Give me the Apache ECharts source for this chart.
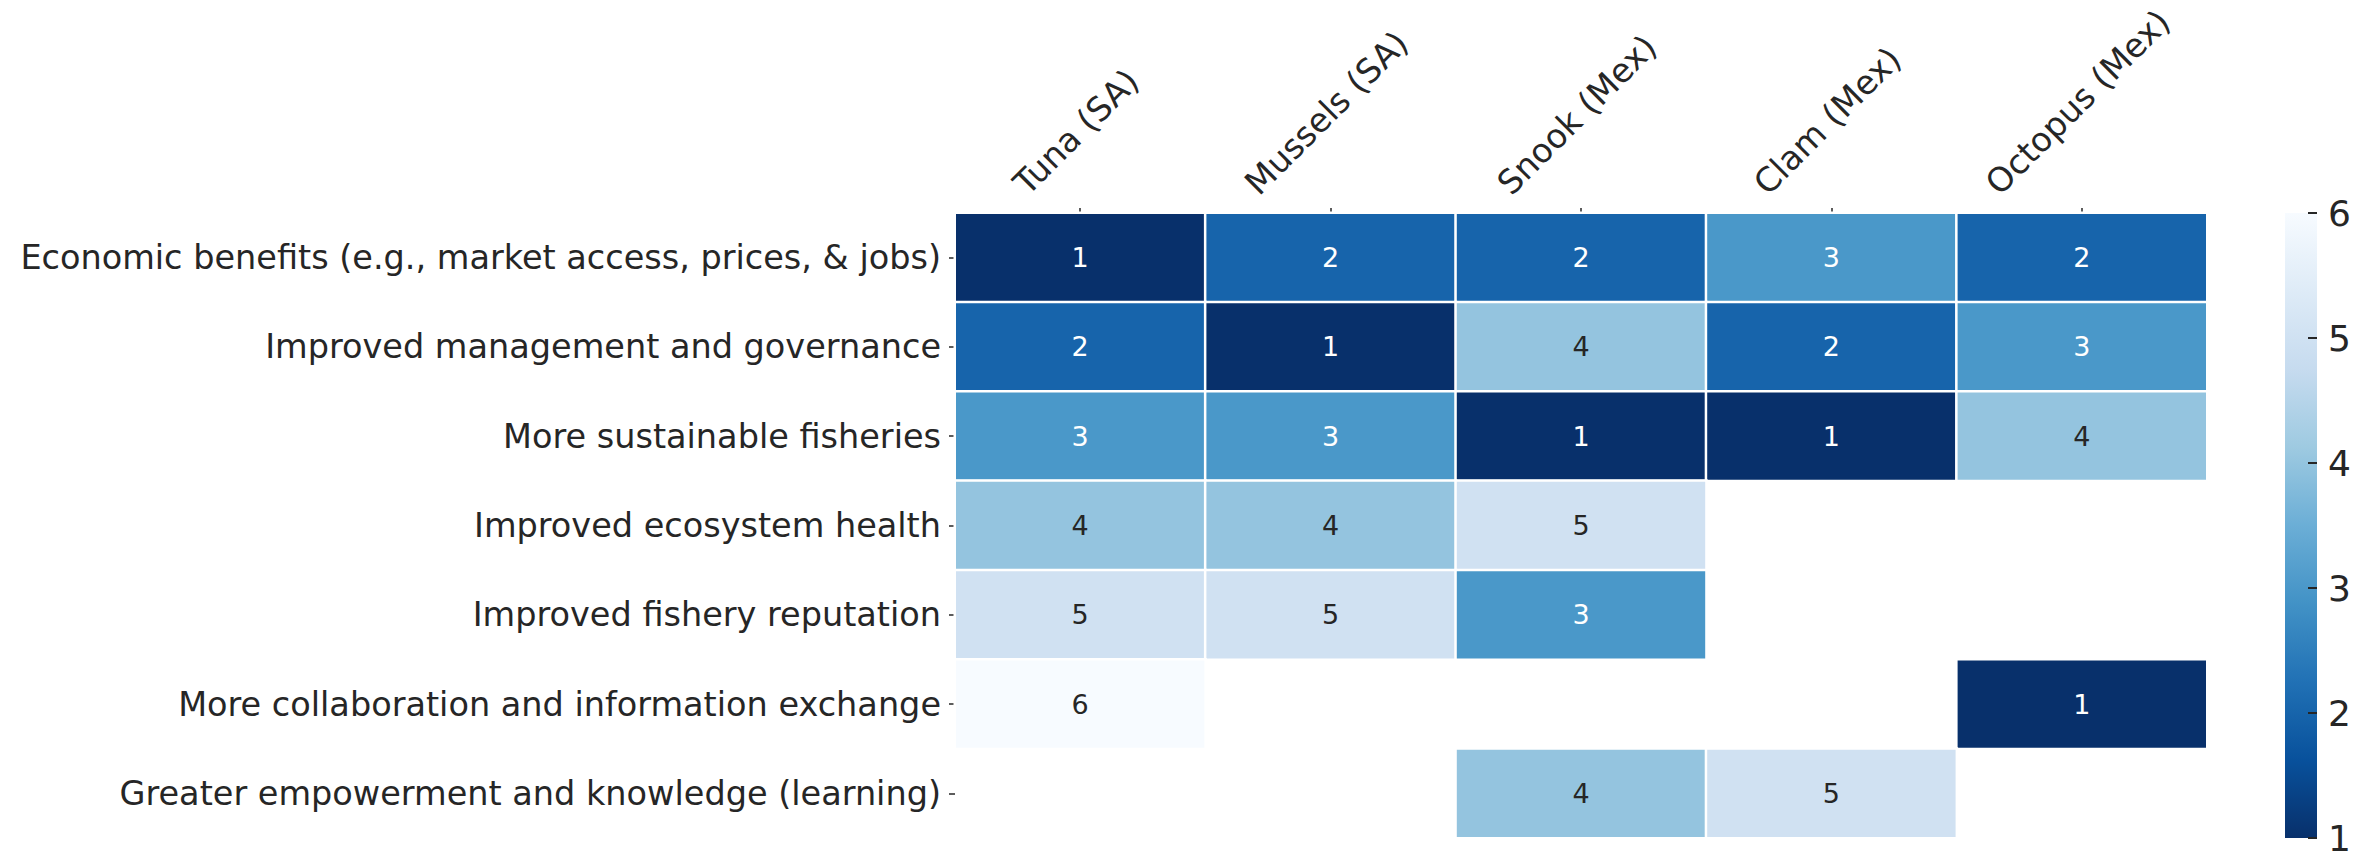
<!DOCTYPE html>
<html>
<head>
<meta charset="utf-8">
<script src="https://cdn.jsdelivr.net/npm/echarts@6/dist/echarts.min.js"></script>
<style>
html,body{margin:0;padding:0;background:#fff;}
#chart{width:2369px;height:858px;}
</style>
</head>
<body>
<div id="chart"></div>
<script>
// ---- data ----
const columns = ['Tuna (SA)', 'Mussels (SA)', 'Snook (Mex)', 'Clam (Mex)', 'Octopus (Mex)'];
const rowLabels = [
  'Economic benefits (e.g., market access, prices, & jobs)',
  'Improved management and governance',
  'More sustainable fisheries',
  'Improved ecosystem health',
  'Improved fishery reputation',
  'More collaboration and information exchange',
  'Greater empowerment and knowledge (learning)'
];
const economicBenefits      = [1, 2, 2, 3, 2];
const improvedManagement    = [2, 1, 4, 2, 3];
const sustainableFisheries  = [3, 3, 1, 1, 4];
const ecosystemHealth       = [4, 4, 5, null, null];
const fisheryReputation     = [5, 5, 3, null, null];
const collaboration         = [6, null, null, null, 1];
const empowerment           = [null, null, 4, 5, null];
const colorbarTicks = [1, 2, 3, 4, 5, 6];

const rowValues = [economicBenefits, improvedManagement, sustainableFisheries,
  ecosystemHealth, fisheryReputation, collaboration, empowerment];

const blues = ['#08306b','#08519c','#2171b5','#4292c6','#6baed6','#9ecae1','#c6dbef','#deebf7','#f7fbff'];

const heatData = [];
rowValues.forEach((vals, r) => {
  vals.forEach((v, c) => {
    if (v !== null) {
      heatData.push({
        value: [c, r, v],
        label: { color: v <= 3 ? '#ffffff' : '#262626' }
      });
    }
  });
});

const FONT = '"DejaVu Sans", sans-serif';
const LABEL_SIZE = 33.5;
const CB_LEFT = 2285, CB_WIDTH = 32;
const chart = echarts.init(document.getElementById('chart'), null, { renderer: 'svg' });

const option = {
  animation: false,
  backgroundColor: '#ffffff',
  grid: { left: 955, top: 213, width: 1252, height: 625 },
  xAxis: {
    type: 'category', data: columns, position: 'top',
    axisLine: { show: false },
    axisTick: { show: true, alignWithLabel: true, length: 5, lineStyle: { color: '#262626', width: 1.5 } },
    axisLabel: { show: false },
    splitLine: { show: false }
  },
  yAxis: [
    {
      type: 'category', data: rowLabels, inverse: true,
      axisLine: { show: false },
      axisTick: { show: true, alignWithLabel: true, length: 6, lineStyle: { color: '#262626', width: 1.5 } },
      axisLabel: { fontFamily: FONT, fontSize: LABEL_SIZE, color: '#262626', margin: 14 },
      splitLine: { show: false }
    },
    {
      type: 'value', min: 1, max: 6, interval: 1, position: 'right',
      offset: CB_LEFT + CB_WIDTH - 2207,
      z: 10,
      axisLine: { show: false },
      axisTick: { show: true, inside: true, length: 9, lineStyle: { color: '#262626', width: 2 } },
      axisLabel: { fontFamily: FONT, fontSize: 36, color: '#262626', margin: 11,
        formatter: v => colorbarTicks.includes(v) ? String(v) : '' },
      splitLine: { show: false }
    }
  ],
  visualMap: {
    type: 'continuous',
    show: false,
    seriesIndex: 0,
    min: 1, max: 6,
    inRange: { color: blues }
  },
  series: [
    {
      type: 'heatmap',
      xAxisIndex: 0, yAxisIndex: 0,
      data: heatData,
      label: { show: true, fontFamily: FONT, fontSize: 27 },
      itemStyle: { borderColor: '#ffffff', borderWidth: 2.5 },
      emphasis: { disabled: true }
    }
  ]
};
chart.setOption(option);

// colour bar: gradient rectangle spanning the colour-bar axis from 1 to 6
const yTop = chart.convertToPixel({ yAxisIndex: 1 }, 6);
const yBot = chart.convertToPixel({ yAxisIndex: 1 }, 1);
const stops = blues.map((c, i) => ({ offset: 1 - i / (blues.length - 1), color: c })).reverse();

// rotated column labels, centred over each column (matplotlib ha='center')
const ctx = document.createElement('canvas').getContext('2d');
ctx.font = LABEL_SIZE + 'px "DejaVu Sans"';
const graphics = [{
  type: 'rect', z: -5,
  shape: { x: CB_LEFT, y: yTop, width: CB_WIDTH, height: yBot - yTop },
  style: { fill: new echarts.graphic.LinearGradient(0, 0, 0, 1, stops) }
}];
columns.forEach(col => {
  const cx = chart.convertToPixel({ xAxisIndex: 0 }, col);
  const w = ctx.measureText(col).width;
  const halfH = (w + 38) * Math.SQRT1_2 / 2;
  graphics.push({
    type: 'text',
    x: cx - 4, y: 202 - halfH,
    rotation: Math.PI / 4,
    style: { text: col, font: LABEL_SIZE + 'px ' + FONT, fill: '#262626', align: 'center', verticalAlign: 'middle' }
  });
});
chart.setOption({ graphic: graphics });
</script>
</body>
</html>
